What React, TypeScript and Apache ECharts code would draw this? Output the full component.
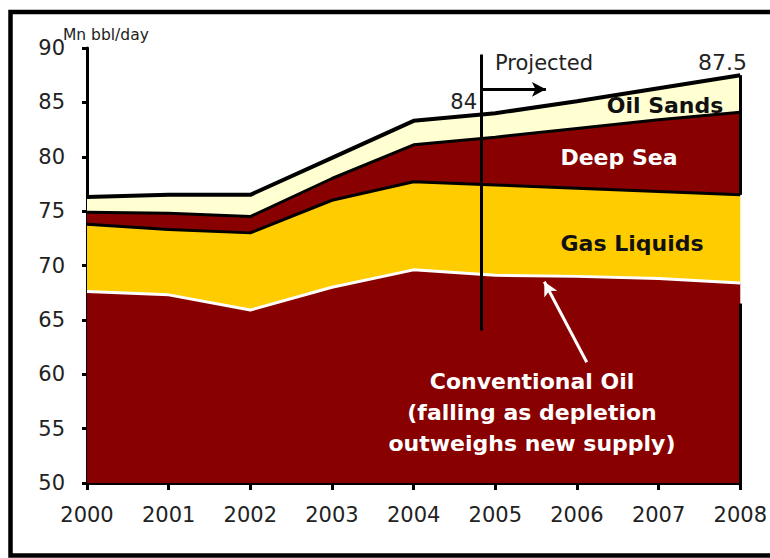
import React, { useEffect, useRef } from "react";
import * as echarts from "echarts";

const years = ["2000", "2001", "2002", "2003", "2004", "2005", "2006", "2007", "2008"];
const conventionalOil = [67.6, 67.3, 65.9, 68.0, 69.6, 69.1, 69.0, 68.8, 68.4];
const gasLiquids = [6.2, 6.0, 7.1, 8.0, 8.1, 8.3, 8.1, 8.0, 8.1];
const deepSea = [1.1, 1.5, 1.5, 2.0, 3.4, 4.4, 5.5, 6.6, 7.6];
const oilSands = [1.4, 1.7, 2.0, 1.9, 2.2, 2.2, 2.5, 2.9, 3.4];
const yTicks = { min: 50, max: 90, interval: 5 };
const projectedYear = 2004.83;
const total2005 = "84";
const total2008 = "87.5";

const MAROON = "#880000";
const YELLOW = "#FFCC00";
const CREAM = "#FFFFD2";
const FONT = "DejaVu Sans";

export default function App() {
  const ref = useRef<HTMLDivElement>(null);
  useEffect(() => {
    if (!ref.current) return;
    const chart = echarts.init(ref.current, undefined, { renderer: "svg" });
    const areaSeries = (name: string, vals: number[], fill: string, line: string, lw: number, z: number) => ({
      name,
      type: "line",
      stack: "supply",
      data: vals,
      showSymbol: false,
      symbol: "none",
      z,
      lineStyle: { color: line, width: lw },
      areaStyle: { color: fill, opacity: 1 },
      emphasis: { disabled: true },
    });
    const solid = (color: string) => ({ color, width: 3, type: "solid" });
    chart.setOption({
      animation: false,
      backgroundColor: "#fff",
      grid: { left: 87, right: 27, top: 48, bottom: 75, containLabel: false },
      xAxis: [
        {
          type: "category",
          data: years,
          boundaryGap: false,
          axisLine: { show: true, lineStyle: { color: "#000", width: 3 } },
          axisTick: { show: true, length: 7, alignWithLabel: true, lineStyle: { color: "#000", width: 3 } },
          axisLabel: { color: "#222", fontSize: 21, fontFamily: FONT, margin: 21, interval: 0 },
          splitLine: { show: false },
        },
        {
          type: "value",
          min: 2000,
          max: 2008,
          show: false,
          splitLine: { show: false },
        },
      ],
      yAxis: {
        type: "value",
        min: yTicks.min,
        max: yTicks.max,
        interval: yTicks.interval,
        axisLine: { show: true, lineStyle: { color: "#000", width: 3 } },
        axisTick: { show: true, length: 5, lineStyle: { color: "#000", width: 3 } },
        axisLabel: { color: "#222", fontSize: 21, fontFamily: FONT, margin: 22 },
        splitLine: { show: false },
      },
      series: [
        areaSeries("Conventional Oil", conventionalOil, MAROON, "#fff", 3, 5),
        areaSeries("Gas Liquids", gasLiquids, YELLOW, "#000", 3, 4),
        areaSeries("Deep Sea", deepSea, MAROON, "#000", 3, 3),
        areaSeries("Oil Sands", oilSands, CREAM, "#000", 4, 2),
        {
          name: "annotations",
          type: "line",
          xAxisIndex: 1,
          data: [],
          z: 20,
          silent: true,
          markLine: {
            silent: true,
            animation: false,
            z: 20,
            label: { show: false },
            symbol: ["none", "none"],
            data: [
              [
                { coord: [projectedYear, 89.4], lineStyle: solid("#000") },
                { coord: [projectedYear, 64.0] },
              ],
              [
                { coord: [projectedYear, 86.2], symbol: "none", lineStyle: solid("#000") },
                { coord: [2005.62, 86.2], symbol: "arrow", symbolSize: [11, 14] },
              ],
              [
                { coord: [2006.12, 61.1], symbol: "none", lineStyle: solid("#fff") },
                { coord: [2005.6, 68.5], symbol: "arrow", symbolSize: [11, 14] },
              ],
              [
                { coord: [2008, 50], lineStyle: solid("#000") },
                { coord: [2008, 66.5] },
              ],
              [
                { coord: [2008, 76.5], lineStyle: solid("#000") },
                { coord: [2008, 87.5] },
              ],
            ],
          },
        },
      ],
      graphic: [
        {
          type: "rect",
          shape: { x: 10.5, y: 12, width: 800, height: 543.5 },
          style: { fill: "none", stroke: "#000", lineWidth: 4.5 },
          silent: true,
          z: 100,
        },
        {
          type: "text",
          x: 63,
          y: 35,
          style: { text: "Mn bbl/day", fill: "#222", font: `15.5px "${FONT}"`, textAlign: "left", textVerticalAlign: "middle" },
          z: 100,
        },
        {
          type: "text",
          x: 495,
          y: 63,
          style: { text: "Projected", fill: "#222", font: `21px "${FONT}"`, textAlign: "left", textVerticalAlign: "middle" },
          z: 100,
        },
        {
          type: "text",
          x: 477,
          y: 102,
          style: { text: total2005, fill: "#222", font: `21px "${FONT}"`, textAlign: "right", textVerticalAlign: "middle" },
          z: 100,
        },
        {
          type: "text",
          x: 747,
          y: 62,
          style: { text: total2008, fill: "#222", font: `22px "${FONT}"`, textAlign: "right", textVerticalAlign: "middle" },
          z: 100,
        },
        {
          type: "text",
          x: 665,
          y: 105,
          style: { text: "Oil Sands", fill: "#111", font: `bold 22px "${FONT}"`, textAlign: "center", textVerticalAlign: "middle" },
          z: 100,
        },
        {
          type: "text",
          x: 619,
          y: 157,
          style: { text: "Deep Sea", fill: "#fff", font: `bold 22px "${FONT}"`, textAlign: "center", textVerticalAlign: "middle" },
          z: 100,
        },
        {
          type: "text",
          x: 632,
          y: 243,
          style: { text: "Gas Liquids", fill: "#111", font: `bold 22px "${FONT}"`, textAlign: "center", textVerticalAlign: "middle" },
          z: 100,
        },
        {
          type: "text",
          x: 532,
          y: 412,
          style: {
            text: "Conventional Oil\n(falling as depletion\noutweighs new supply)",
            fill: "#fff",
            font: `bold 22px "${FONT}"`,
            lineHeight: 31,
            textAlign: "center",
            textVerticalAlign: "middle",
          },
          z: 100,
        },
      ],
    });
    return () => chart.dispose();
  }, []);
  return <div ref={ref} style={{ position: "fixed", left: 0, top: 0, width: 770, height: 558 }} />;
}
